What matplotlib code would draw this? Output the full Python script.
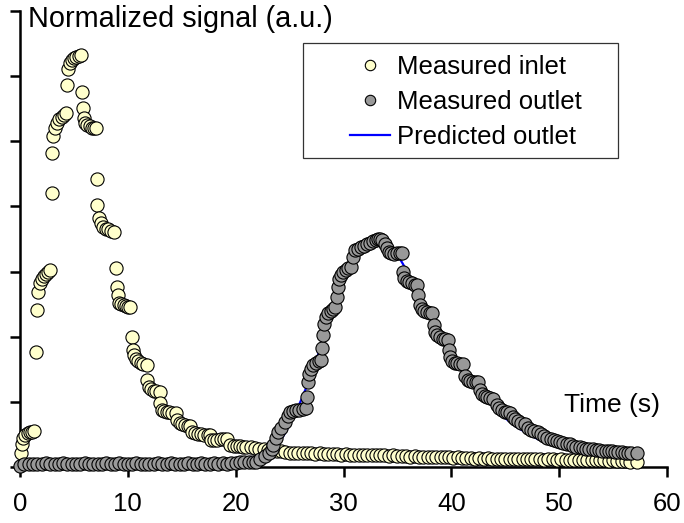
import matplotlib
matplotlib.use("Agg")
import matplotlib.pyplot as plt
from matplotlib.lines import Line2D
from matplotlib.patches import Rectangle

plt.rcParams['font.family'] = ['Liberation Sans', 'DejaVu Sans']

# inlet trace (time in s, normalized signal)
inlet_t = [
    0.05, 0.15, 0.3, 0.5, 0.7, 0.9, 1.1, 1.3,
    1.45, 1.6, 1.7, 1.85, 2.0, 2.2, 2.4, 2.6, 2.8,
    2.95, 3.0, 3.1, 3.25, 3.45, 3.65, 3.85, 4.05, 4.3,
    4.4, 4.45, 4.6, 4.8, 5.0, 5.2, 5.45, 5.7,
    5.75, 5.85, 5.9, 6.05, 6.25, 6.45, 6.65, 6.85, 7.05,
    7.1, 7.15, 7.3, 7.5, 7.7, 7.95, 8.2, 8.45, 8.7,
    8.9, 9.0, 9.05, 9.2, 9.4, 9.6, 9.8, 10.0, 10.2,
    10.4, 10.45, 10.55, 10.75, 10.95, 11.2, 11.45, 11.75,
    11.8, 11.95, 12.15, 12.4, 12.65, 12.95,
    13.0, 13.15, 13.35, 13.6, 13.85, 14.1, 14.5,
    14.55, 14.8, 15.05, 15.3, 15.55, 15.8,
    15.95, 16.2, 16.5, 16.8, 17.1, 17.4, 17.6,
    17.75, 18.0, 18.3, 18.6, 18.9, 19.2,
    19.5, 19.8, 20.1, 20.4, 20.7, 21.0,
    21.4, 21.8, 22.2, 22.6, 23.0, 23.4, 23.8, 24.2, 24.6, 25.0,
    25.4, 25.8, 26.2, 26.6, 27.0, 27.4, 27.8, 28.2, 28.6, 29.0,
    29.4, 29.8, 30.2, 30.6, 31.0, 31.4, 31.8, 32.2, 32.6, 33.0,
    33.4, 33.8, 34.2, 34.6, 35.0, 35.4, 35.8, 36.2, 36.6, 37.0,
    37.4, 37.8, 38.2, 38.6, 39.0, 39.4, 39.8, 40.2, 40.6, 41.0,
    41.4, 41.8, 42.2, 42.6, 43.0, 43.4, 43.8, 44.2, 44.6, 45.0,
    45.4, 45.8, 46.2, 46.6, 47.0, 47.4, 47.8, 48.2, 48.6, 49.0,
    49.4, 49.8, 50.2, 50.6, 51.0, 51.4, 51.8, 52.2, 52.6, 53.0,
    53.4, 53.8, 54.2, 54.6, 55.0, 55.4, 55.8, 56.2, 56.6, 57.2,
]
inlet_y = [
    0.22, 0.35, 0.44, 0.49, 0.52, 0.53, 0.54, 0.55,
    1.77, 2.41, 2.69, 2.82, 2.88, 2.93, 2.97, 3.00, 3.02,
    4.21, 4.82, 5.08, 5.20, 5.28, 5.34, 5.38, 5.41, 5.43,
    5.86, 6.11, 6.20, 6.25, 6.28, 6.30, 6.31, 6.32,
    5.76, 5.51, 5.36, 5.28, 5.25, 5.23, 5.21, 5.20, 5.20,
    4.42, 4.02, 3.82, 3.74, 3.69, 3.66, 3.65, 3.63, 3.61,
    3.05, 2.76, 2.64, 2.52, 2.50, 2.48, 2.47, 2.46, 2.46,
    2.00, 1.80, 1.72, 1.66, 1.62, 1.60, 1.58, 1.57,
    1.34, 1.23, 1.20, 1.17, 1.16, 1.15,
    0.98, 0.87, 0.86, 0.85, 0.84, 0.83, 0.83,
    0.72, 0.68, 0.66, 0.64, 0.63, 0.63,
    0.54, 0.52, 0.51, 0.50, 0.49, 0.49, 0.49,
    0.41, 0.42, 0.42, 0.43, 0.43, 0.43,
    0.34, 0.33, 0.32, 0.32, 0.31, 0.31,
    0.30, 0.29, 0.28, 0.27, 0.26, 0.25, 0.24, 0.24, 0.23, 0.22,
    0.22, 0.22, 0.21, 0.21, 0.21, 0.20, 0.21, 0.20, 0.20, 0.20,
    0.20, 0.19, 0.20, 0.19, 0.19, 0.19, 0.18, 0.19, 0.18, 0.18,
    0.18, 0.18, 0.17, 0.18, 0.17, 0.17, 0.17, 0.16, 0.17, 0.16,
    0.16, 0.16, 0.15, 0.16, 0.15, 0.15, 0.15, 0.14, 0.15, 0.14,
    0.14, 0.14, 0.13, 0.14, 0.13, 0.14, 0.13, 0.13, 0.13, 0.13,
    0.12, 0.13, 0.12, 0.13, 0.12, 0.12, 0.12, 0.12, 0.11, 0.12,
    0.12, 0.11, 0.12, 0.11, 0.11, 0.11, 0.11, 0.10, 0.11, 0.10,
    0.10, 0.10, 0.10, 0.09, 0.10, 0.09, 0.09, 0.09, 0.08, 0.07,
]

# outlet trace
outlet_t = [
    0.0, 0.4, 0.8, 1.2, 1.6, 2.0, 2.4, 2.8, 3.2, 3.6,
    4.0, 4.4, 4.8, 5.2, 5.6, 6.0, 6.4, 6.8, 7.2, 7.6,
    8.0, 8.4, 8.8, 9.2, 9.6, 10.0, 10.4, 10.8, 11.2, 11.6,
    12.0, 12.4, 12.8, 13.2, 13.6, 14.0, 14.4, 14.8, 15.2, 15.6,
    16.0, 16.4, 16.8, 17.2, 17.6, 18.0, 18.4, 18.8, 19.2, 19.6,
    20.0, 20.4, 20.8, 21.2, 21.6,
    21.9, 22.3, 22.7, 23.1, 23.35, 23.5, 23.7, 23.95, 24.25, 24.55,
    24.85, 25.0, 25.3, 25.6, 25.9, 26.2, 26.5,
    26.6, 26.7, 26.8, 26.95, 27.2, 27.45, 27.7, 27.95,
    28.0, 28.1, 28.2, 28.4, 28.6, 28.8, 29.0, 29.2,
    29.4, 29.45, 29.55, 29.75, 29.95, 30.2, 30.45, 30.65,
    30.9, 31.05, 31.3, 31.6, 31.9, 32.2, 32.5, 32.75, 33.0, 33.2, 33.4,
    33.6, 33.85, 34.0, 34.2, 34.45, 34.7, 34.95, 35.2, 35.45,
    35.5, 35.65, 35.85, 36.1, 36.35, 36.6, 36.8,
    36.9, 37.05, 37.25, 37.5, 37.75, 38.0, 38.2,
    38.35, 38.5, 38.7, 38.95, 39.2, 39.45, 39.65,
    39.75, 39.85, 40.05, 40.3, 40.55, 40.8, 41.05,
    41.3, 41.5, 41.75, 42.0, 42.25, 42.5,
    42.65, 42.85, 43.1, 43.35, 43.6, 43.9,
    44.2, 44.45, 44.7, 44.95, 45.2, 45.45,
    45.7, 45.95, 46.2, 46.5, 46.8,
    47.1, 47.4, 47.7, 48.0, 48.3, 48.6, 48.9, 49.2, 49.5, 49.8,
    50.1, 50.4, 50.7, 51.0, 51.3, 51.6, 51.9, 52.2, 52.5, 52.8,
    53.1, 53.4, 53.7, 54.0, 54.3, 54.6, 54.9, 55.2, 55.5, 55.8,
    56.1, 56.4, 56.7, 57.2,
]
outlet_y = [
    0.02, 0.04, 0.05, 0.04, 0.05, 0.05, 0.06, 0.05, 0.04, 0.05,
    0.06, 0.05, 0.05, 0.04, 0.05, 0.06, 0.05, 0.05, 0.04, 0.05,
    0.06, 0.05, 0.05, 0.06, 0.05, 0.04, 0.05, 0.06, 0.05, 0.05,
    0.04, 0.05, 0.06, 0.05, 0.05, 0.06, 0.05, 0.04, 0.05, 0.06,
    0.05, 0.05, 0.06, 0.05, 0.05, 0.06, 0.05, 0.06, 0.05, 0.06,
    0.06, 0.07, 0.07, 0.07, 0.08,
    0.08, 0.12, 0.17, 0.21, 0.27, 0.34, 0.45, 0.53, 0.60, 0.69,
    0.79, 0.84, 0.86, 0.87, 0.88, 0.89, 0.90,
    1.08, 1.30, 1.42, 1.50, 1.56, 1.60, 1.62, 1.64,
    1.83, 2.03, 2.20, 2.30, 2.36, 2.40, 2.43, 2.45,
    2.61, 2.76, 2.88, 2.95, 2.99, 3.02, 3.05, 3.07,
    3.22, 3.33, 3.35, 3.38, 3.40, 3.42, 3.44, 3.47, 3.49, 3.50, 3.50,
    3.48, 3.42, 3.36, 3.30, 3.28, 3.27, 3.28, 3.29, 3.29,
    3.00, 2.90, 2.86, 2.84, 2.82, 2.80, 2.80,
    2.64, 2.49, 2.43, 2.40, 2.38, 2.37, 2.36,
    2.18, 2.08, 2.02, 1.99, 1.97, 1.96, 1.95,
    1.80, 1.69, 1.63, 1.60, 1.59, 1.58, 1.58,
    1.40, 1.33, 1.32, 1.31, 1.30, 1.30,
    1.18, 1.12, 1.09, 1.07, 1.06, 1.05,
    0.95, 0.90, 0.87, 0.85, 0.84, 0.83,
    0.76, 0.73, 0.70, 0.68, 0.66,
    0.60, 0.57, 0.55, 0.53, 0.50, 0.47, 0.45, 0.43, 0.42, 0.40,
    0.38, 0.37, 0.36, 0.35, 0.33, 0.31, 0.30, 0.29, 0.28, 0.27,
    0.27, 0.26, 0.26, 0.25, 0.25, 0.24, 0.24, 0.23, 0.23, 0.23,
    0.22, 0.22, 0.22, 0.21,
]

# model prediction for the outlet
pred_t = [0, 10, 20, 21, 22, 22.5, 23, 23.5, 24, 24.5, 25, 25.5, 26, 26.5,
          27, 27.5, 28, 28.5, 29, 29.5, 30, 30.5, 31, 31.5, 32, 32.5, 33,
          33.5, 34, 34.5, 35, 35.5, 36, 36.5, 37, 37.5, 38, 38.5, 39, 39.5,
          40, 41, 42, 43, 44, 45, 46, 47, 48, 49, 50, 51, 52, 53, 54, 55,
          56, 57]
pred_y = [0.03, 0.03, 0.03, 0.04, 0.07, 0.10, 0.16, 0.25, 0.37, 0.50, 0.65,
          0.82, 1.00, 1.20, 1.42, 1.65, 1.92, 2.20, 2.45, 2.67, 2.87, 3.03,
          3.15, 3.28, 3.38, 3.45, 3.49, 3.50, 3.45, 3.37, 3.26, 3.12, 2.97,
          2.82, 2.67, 2.52, 2.40, 2.22, 2.06, 1.90, 1.74, 1.50, 1.28, 1.08,
          0.90, 0.75, 0.62, 0.52, 0.43, 0.36, 0.31, 0.27, 0.24, 0.21, 0.19,
          0.17, 0.16, 0.15]

x_ticks = [0, 10, 20, 30, 40, 50, 60]
legend_labels = ["Measured inlet", "Measured outlet", "Predicted outlet"]

INLET_FILL = "#ffffcc"
OUTLET_FILL = "#999999"
PRED_COLOR = "#0000ff"
FS = 18.5
W, H = 684, 523

fig = plt.figure(figsize=(W / 100, H / 100), dpi=100)
ax = fig.add_axes([20 / W, 56 / H, 647 / W, 456 / H])

ax.scatter(inlet_t, inlet_y, s=90, c=INLET_FILL, edgecolors="black",
           linewidths=0.8, clip_on=False, zorder=3)
ax.plot(pred_t, pred_y, color=PRED_COLOR, lw=1.6, zorder=4)
ax.scatter(outlet_t, outlet_y, s=90, c=OUTLET_FILL, edgecolors="black",
           linewidths=0.8, clip_on=False, zorder=5)

ax.set_xlim(0, 60)
ax.set_ylim(0, 7)
ax.set_xticks(x_ticks)
ax.set_yticks(range(0, 8))
ax.set_yticklabels([])
for side in ("top", "right"):
    ax.spines[side].set_visible(False)
for side in ("left", "bottom"):
    ax.spines[side].set_linewidth(1.8)
ax.tick_params(direction="out", length=7, width=1.8, labelsize=FS, pad=11)

fig.text(28 / W, 1 - 27 / H, "Normalized signal (a.u.)", fontsize=20.8,
         va="baseline")
fig.text(660 / W, 1 - 412 / H, "Time (s)", fontsize=19, ha="right",
         va="baseline")

# legend: frame drawn separately so the padding can be uneven
fig.patches.append(Rectangle((303 / W, 1 - 158 / H), 315 / W, 115 / H,
                             transform=fig.transFigure, fill=False,
                             ec="#333333", lw=0.9))
handles = [
    Line2D([], [], ls="none", marker="o", markersize=7.5, mfc=INLET_FILL,
           mec="black", mew=0.8),
    Line2D([], [], ls="none", marker="o", markersize=7.5, mfc=OUTLET_FILL,
           mec="black", mew=0.8),
    Line2D([], [], color=PRED_COLOR, lw=1.6),
]
ax.legend(handles, legend_labels, loc="upper left",
          bbox_to_anchor=(350 / W, 1 - 55 / H), bbox_transform=fig.transFigure,
          frameon=False, borderpad=0, borderaxespad=0, fontsize=FS,
          handlelength=1.56, handletextpad=0.27, labelspacing=0.43)

fig.savefig("out.png", dpi=100)
